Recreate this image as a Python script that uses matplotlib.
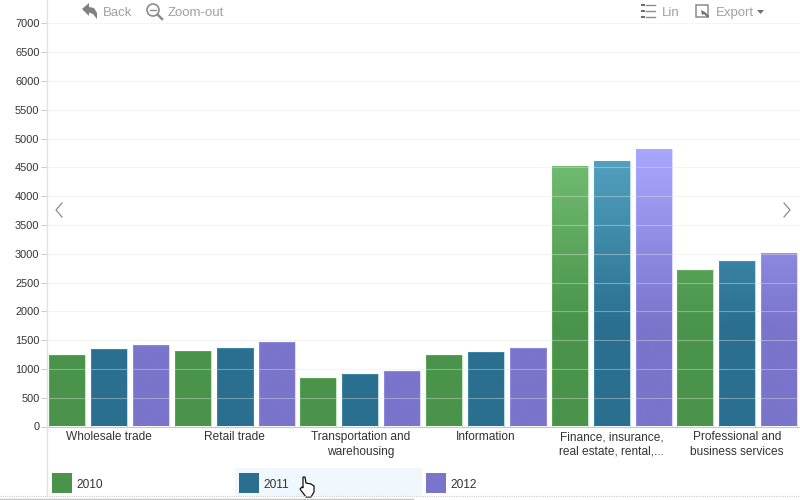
"""Grouped bars of GDP by industry, with the chart widget's toolbar around them."""

import matplotlib

matplotlib.use("Agg")

import matplotlib.pyplot as plt
import numpy as np
from matplotlib.colors import LinearSegmentedColormap
from matplotlib.patches import Polygon, Rectangle


CATEGORIES = [
    "Wholesale trade",
    "Retail trade",
    "Transportation and\nwarehousing",
    "Information",
    "Finance, insurance,\nreal estate, rental,...",
    "Professional and\nbusiness services",
]
YEARS = ["2010", "2011", "2012"]
VALUES_2010 = [1242, 1311, 834, 1242, 4525, 2718]
VALUES_2011 = [1346, 1363, 920, 1294, 4612, 2883]
VALUES_2012 = [1407, 1468, 964, 1372, 4820, 3013]
Y_TICKS = list(range(0, 7500, 500))

# bottom and top colour of each series' gradient
COLORS = [("#4a934a", "#74c074"), ("#2a6f8f", "#55a5c3"), ("#7a74cb", "#aaa8ff")]
GRADIENT_TOP = 4900

WIDTH, HEIGHT = 800, 500
AXIS_X, BASE_Y, TOP_Y = 46.5, 426.5, 23.5
GREY = "#8c8c8c"
TEXT = "#333333"

plt.rcParams["font.family"] = ["Liberation Sans", "DejaVu Sans"]

fig = plt.figure(figsize=(8, 5), dpi=100, facecolor="white")
ax = fig.add_axes([
    AXIS_X / WIDTH,
    (HEIGHT - BASE_Y) / HEIGHT,
    (WIDTH - AXIS_X) / WIDTH,
    (BASE_Y - TOP_Y) / HEIGHT,
])

x = np.arange(len(CATEGORIES)) + 0.5
group_px = (WIDTH - AXIS_X) / len(CATEGORIES)
bar_width = 36 / group_px
step = 42 / group_px

for i, (values, (low, high)) in enumerate(
    zip([VALUES_2010, VALUES_2011, VALUES_2012], COLORS)
):
    # stays dark at first, the lighter part only shows on the tall bars
    cmap = LinearSegmentedColormap.from_list(
        f"bar{i}", [(0, low), (0.35, low), (1, high)]
    )
    bars = ax.bar(
        x + (i - 1) * step,
        values,
        bar_width,
        facecolor="none",
        edgecolor=high,
        linewidth=0.8,
        alpha=0.4,
        zorder=3,
    )
    for bar in bars:
        image = ax.imshow(
            np.linspace(0, 1, 256).reshape(-1, 1),
            cmap=cmap,
            origin="lower",
            aspect="auto",
            extent=(bar.get_x(), bar.get_x() + bar.get_width(), 0, GRADIENT_TOP),
            zorder=2,
        )
        image.set_clip_path(bar)

ax.set_xlim(0, len(CATEGORIES))
ax.set_ylim(0, 7000)
ax.set_yticks(Y_TICKS)
ax.set_xticks(x, CATEGORIES)
ax.tick_params(axis="y", labelsize=7.9, length=4, width=0.8, color="#cccccc",
               labelcolor=TEXT, pad=1)
ax.tick_params(axis="x", labelsize=8.6, length=0, labelcolor=TEXT, pad=3.5)
for label in ax.get_xticklabels():
    label.set_linespacing(1.27)
for value in Y_TICKS[1:]:
    ax.axhline(value, color="#e4e4e4", alpha=0.4, linewidth=0.8, zorder=4)
for side in ["top", "right", "left"]:
    ax.spines[side].set_visible(False)
ax.spines["bottom"].set_color("#c8c8c8")
ax.patch.set_alpha(0)

# widget chrome, in pixel coordinates
ui = fig.add_axes([0, 0, 1, 1], zorder=5)
ui.set_xlim(0, WIDTH)
ui.set_ylim(HEIGHT, 0)
ui.axis("off")

ui.plot([AXIS_X, AXIS_X], [0, 496], color="#e2e2e2", linewidth=1)
ui.plot([0, WIDTH], [496, 496], color="#cfcfcf", linewidth=0.8, linestyle=(0, (1, 1)))
ui.plot([0, 413], [499, 499], color="#c4c4c4", linewidth=1, clip_on=False)

# toolbar labels
for label, px in [("Back", 103), ("Zoom-out", 168), ("Lin", 662), ("Export", 716)]:
    ui.text(px, 13, label, fontsize=9.5, color="#a0a0a0", va="center", ha="left")

# back arrow
ui.add_patch(Polygon(
    [(82, 9), (89, 3), (89, 7), (94, 8), (97, 13), (97, 19), (93, 14), (89, 12.5), (89, 16)],
    closed=True, facecolor="#808080", edgecolor="none",
))
# zoom-out lens
ui.add_patch(plt.Circle((153, 10), 6, fill=False, edgecolor=GREY, linewidth=1.2))
ui.plot([150, 156], [10, 10], color=GREY, linewidth=1)
ui.plot([157.5, 162], [14.5, 19], color=GREY, linewidth=1.8)
# list icon
for py in [5, 11, 17]:
    ui.plot([642, 644], [py, py], color="#707070", linewidth=1.5)
    ui.plot([646, 655], [py, py], color=GREY, linewidth=1)
# export icon
ui.add_patch(Rectangle((696, 5), 12, 12, fill=False, edgecolor=GREY, linewidth=1.1))
ui.add_patch(Polygon(
    [(701, 10), (705, 12), (709, 16), (708, 18), (704, 14), (702, 15)],
    closed=True, facecolor="#707070", edgecolor="none",
))
ui.add_patch(Polygon([(757, 10), (764, 10), (760.5, 14)], closed=True,
                     facecolor="#707070", edgecolor="none"))

# scroll chevrons
ui.plot([62, 56, 62], [203, 210, 217], color=GREY, linewidth=0.9)
ui.plot([784, 790, 784], [203, 210, 217], color=GREY, linewidth=0.9)

# legend, the hovered entry gets a pale band
ui.add_patch(Rectangle((235, 468), 187, 28, facecolor="#f1f8fd", edgecolor="none"))
for year, px, (low, high), text_px in zip(YEARS, [52, 239, 426], COLORS, [76.5, 263.5, 450.5]):
    ui.add_patch(Rectangle((px, 473), 20, 20, facecolor=low, edgecolor="none"))
    ui.text(text_px, 485, year, fontsize=8.6, color=TEXT, va="center", ha="left")

# hand cursor
ui.add_patch(Polygon(
    [(303, 477), (305, 477), (306, 483), (311, 484), (314, 486), (314, 492), (311, 497),
     (306, 497), (300, 489), (302, 487), (303, 488)],
    closed=True, facecolor="white", edgecolor="#111111", linewidth=0.9,
))

fig.savefig("out.png", dpi=100)
